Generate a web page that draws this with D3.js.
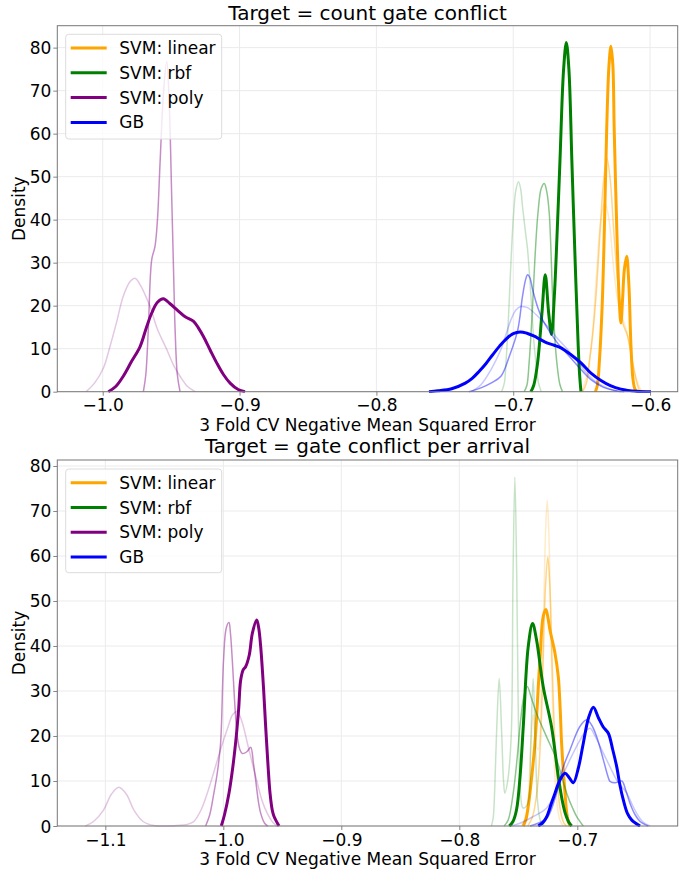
<!DOCTYPE html>
<html><head><meta charset="utf-8">
<script src="https://cdn.jsdelivr.net/npm/d3@7"></script>
<style>
html,body{margin:0;padding:0;background:#fff;}
svg text{font-family:"DejaVu Sans",sans-serif;fill:#000;}
</style></head>
<body><svg id="chart" width="694" height="873"></svg>
<script>
// ---------------- DATA ----------------
const modelNames = ["SVM: linear", "SVM: rbf", "SVM: poly", "GB"];
const titles = ["Target = count gate conflict", "Target = gate conflict per arrival"];
const xLabel = "3 Fold CV Negative Mean Squared Error";
const yLabel = "Density";
const xTicksTop = [-1.0, -0.9, -0.8, -0.7, -0.6];
const xTicksBottom = [-1.1, -1.0, -0.9, -0.8, -0.7];
const yTicks = [0, 10, 20, 30, 40, 50, 60, 70, 80];

// Top panel: density curves [x, density]; A = bold, B = medium, C = light
const topLinearA = [[-0.6400,0],[-0.6385,1.5],[-0.6371,6.7],[-0.6350,20],[-0.6334,37.7],[-0.6317,61],[-0.6300,76],[-0.6286,80.3],[-0.6272,76],[-0.6262,61],[-0.6243,37.7],[-0.6225,21],[-0.6213,16],[-0.6200,22],[-0.6188,28.4],[-0.6171,31.5],[-0.6155,25],[-0.6140,11],[-0.6125,3],[-0.6110,0.6],[-0.6091,0]];
const topLinearB = [[-0.6493,0],[-0.6465,2],[-0.6444,6.7],[-0.6420,13],[-0.6395,22.2],[-0.6364,37.7],[-0.6339,49.3],[-0.6315,54.3],[-0.6291,49.3],[-0.6266,37.7],[-0.6237,25.9],[-0.6200,16],[-0.6164,12.9],[-0.6127,6.7],[-0.6100,2.5],[-0.6079,0.5],[-0.6060,0]];
const topLinearC = [[-0.6500,0],[-0.6460,4],[-0.6420,14],[-0.6390,28],[-0.6360,40],[-0.6330,44],[-0.6300,40],[-0.6270,30],[-0.6240,22],[-0.6200,17],[-0.6170,14],[-0.6130,7],[-0.6090,2],[-0.6060,0]];
const topRbfA = [[-0.6871,0],[-0.6850,1.5],[-0.6822,6.7],[-0.6790,18.3],[-0.6766,27.2],[-0.6741,18.3],[-0.6720,13.3],[-0.6700,22],[-0.6688,29.9],[-0.6659,53.2],[-0.6632,74.9],[-0.6612,81.2],[-0.6593,74.9],[-0.6571,53.2],[-0.6547,29.9],[-0.6525,10.5],[-0.6515,4],[-0.6505,0]];
const topRbfB = [[-0.6920,0],[-0.6900,1.5],[-0.6884,6.7],[-0.6860,19],[-0.6843,30],[-0.6819,41.6],[-0.6795,47.3],[-0.6773,48.4],[-0.6755,46.5],[-0.6737,41.6],[-0.6712,22],[-0.6695,12],[-0.6681,6.7],[-0.6660,1.8],[-0.6640,0]];
const topRbfC = [[-0.7085,0],[-0.7065,2],[-0.7053,6.7],[-0.7035,17],[-0.7017,29.9],[-0.6998,41],[-0.6980,47],[-0.6961,48.8],[-0.6945,47],[-0.6932,43],[-0.6910,37],[-0.6895,33],[-0.6870,22],[-0.6850,12],[-0.6834,6.7],[-0.6815,2],[-0.6795,0]];
const topPolyA = [[-0.9959,0],[-0.9905,1.2],[-0.9850,3.6],[-0.9790,7],[-0.9727,10.5],[-0.9680,15],[-0.9642,18.3],[-0.9600,20.8],[-0.9557,21.6],[-0.9510,20.5],[-0.9459,19.1],[-0.9400,17.5],[-0.9338,16.4],[-0.9300,14.8],[-0.9265,12.9],[-0.9215,9.7],[-0.9167,6.7],[-0.9118,4],[-0.9069,2],[-0.9010,0.5],[-0.8960,0]];
const topPolyB = [[-0.9703,0],[-0.9685,4],[-0.9667,14.4],[-0.9642,30.7],[-0.9618,33.8],[-0.9600,40],[-0.9581,53.2],[-0.9555,70],[-0.9532,76.8],[-0.9515,68],[-0.9496,45.4],[-0.9480,25],[-0.9471,14.4],[-0.9455,4],[-0.9435,0]];
const topPolyC = [[-1.0122,0],[-1.0060,2],[-0.9995,5.5],[-0.9947,10.5],[-0.9900,16],[-0.9850,22.2],[-0.9800,25.6],[-0.9764,26.4],[-0.9720,24.5],[-0.9690,22.5],[-0.9654,19.8],[-0.9600,14.5],[-0.9532,9.8],[-0.9480,6],[-0.9435,3.6],[-0.9380,1.2],[-0.9325,0]];
const topGbA = [[-0.7616,0],[-0.7550,0.2],[-0.7450,0.7],[-0.7350,2.0],[-0.7300,3.1],[-0.7250,4.7],[-0.7200,6.5],[-0.7150,8.6],[-0.7100,10.6],[-0.7050,12.3],[-0.7000,13.5],[-0.6949,13.9],[-0.6900,13.6],[-0.6846,12.9],[-0.6800,12.1],[-0.6749,11.3],[-0.6700,10.8],[-0.6651,10.2],[-0.6578,8.6],[-0.6505,6.7],[-0.6432,4.3],[-0.6359,2.6],[-0.6290,1.4],[-0.6213,0.6],[-0.6100,0.1],[-0.5993,0]];
const topGbB = [[-0.7324,0],[-0.7236,0.9],[-0.7163,2],[-0.7090,3.6],[-0.7029,8.2],[-0.6968,14.2],[-0.6932,22.2],[-0.6910,26],[-0.6895,27.2],[-0.6878,26.5],[-0.6858,23.7],[-0.6820,19.5],[-0.6785,16.7],[-0.6730,13.8],[-0.6676,11.3],[-0.6620,9.3],[-0.6578,7.8],[-0.6500,5],[-0.6432,2.8],[-0.6340,1],[-0.6262,0.3],[-0.6189,0]];
const topGbC = [[-0.7308,0],[-0.7236,1.6],[-0.7163,5.1],[-0.7090,9.8],[-0.7017,16.7],[-0.6980,19],[-0.6944,19.8],[-0.6900,19.6],[-0.6871,19],[-0.6810,17.2],[-0.6749,15.2],[-0.6680,12.5],[-0.6603,9.8],[-0.6505,5.9],[-0.6440,3.5],[-0.6383,2],[-0.6300,0.7],[-0.6213,0]];

// Bottom panel
const botLinearA = [[-0.7458,0],[-0.7435,1.5],[-0.7416,4.3],[-0.7390,10],[-0.7359,18.4],[-0.7317,36.9],[-0.7288,46.7],[-0.7266,48.1],[-0.7250,46.5],[-0.7232,43.6],[-0.7189,38.4],[-0.7161,33.2],[-0.7145,26],[-0.7133,18.4],[-0.7115,11],[-0.7104,7.3],[-0.7090,3],[-0.7076,1],[-0.7060,0]];
const botLinearB = [[-0.7420,0],[-0.7380,2],[-0.7340,8],[-0.7310,20],[-0.7290,36],[-0.7270,53],[-0.7250,59.8],[-0.7232,53],[-0.7215,38],[-0.7195,22],[-0.7170,10],[-0.7140,3],[-0.7110,0.5],[-0.7090,0]];
const botLinearC = [[-0.7470,0],[-0.7430,3],[-0.7400,14],[-0.7374,24.7],[-0.7350,18],[-0.7330,17],[-0.7305,28],[-0.7285,48],[-0.7268,66],[-0.7255,72.4],[-0.7242,66],[-0.7225,45],[-0.7205,22],[-0.7180,7],[-0.7150,1.5],[-0.7120,0]];
const botRbfA = [[-0.7577,0],[-0.7545,1],[-0.7515,3.6],[-0.7485,11],[-0.7458,22],[-0.7416,39.8],[-0.7379,45],[-0.7345,41.3],[-0.7289,31],[-0.7218,22],[-0.7161,11],[-0.7130,6],[-0.7104,3],[-0.7075,1],[-0.7048,0]];
const botRbfB = [[-0.7620,0],[-0.7586,1.3],[-0.7543,7.3],[-0.7510,15],[-0.7486,22],[-0.7455,28.5],[-0.7424,31],[-0.7390,28.5],[-0.7345,25],[-0.7260,19.8],[-0.7175,14.7],[-0.7090,7.3],[-0.7040,4],[-0.7005,2.1],[-0.6949,0]];
const botRbfC = [[-0.7727,0],[-0.7712,2],[-0.7700,8],[-0.7685,20],[-0.7662,32.8],[-0.7640,20],[-0.7625,10],[-0.7614,7.3],[-0.7590,10],[-0.7560,20],[-0.7545,55],[-0.7529,77.5],[-0.7513,55],[-0.7500,25],[-0.7486,10],[-0.7460,4],[-0.7420,5],[-0.7395,18],[-0.7374,32.8],[-0.7355,18],[-0.7335,5],[-0.7310,1],[-0.7280,0]];
const botPolyA = [[-1.0017,0],[-0.9990,2.5],[-0.9952,7.3],[-0.9925,12],[-0.9896,18.4],[-0.9870,26],[-0.9853,32.4],[-0.9830,34.8],[-0.9811,35.4],[-0.9780,38],[-0.9754,42.8],[-0.9717,45.8],[-0.9700,44],[-0.9683,39.8],[-0.9660,31],[-0.9641,22.1],[-0.9620,13],[-0.9604,7.3],[-0.9585,3.5],[-0.9570,2.1],[-0.9528,0]];
const botPolyB = [[-1.0150,0],[-1.0115,2.5],[-1.0080,7.3],[-1.0050,12],[-1.0023,18.4],[-0.9998,36.9],[-0.9975,44],[-0.9952,45.2],[-0.9940,43],[-0.9924,36.9],[-0.9900,26],[-0.9881,19.8],[-0.9860,17],[-0.9839,16.1],[-0.9800,16.5],[-0.9768,17.5],[-0.9745,14],[-0.9726,10.2],[-0.9700,5],[-0.9683,2.8],[-0.9650,0.6],[-0.9624,0]];
const botPolyC = [[-1.1169,0],[-1.1100,1],[-1.1014,3.6],[-1.0950,7],[-1.0886,8.6],[-1.0820,7],[-1.0759,3.6],[-1.0680,1],[-1.0589,0.1],[-1.0400,0.1],[-1.0300,0.4],[-1.0250,1],[-1.0190,3.5],[-1.0136,7.3],[-1.0080,12],[-1.0023,17],[-0.9960,22],[-0.9920,24.8],[-0.9881,25.4],[-0.9840,23],[-0.9796,18.4],[-0.9750,13.5],[-0.9711,9.5],[-0.9670,5.5],[-0.9627,2.8],[-0.9580,0.8],[-0.9542,0]];
const botGbA = [[-0.7331,0],[-0.7290,0.8],[-0.7260,2],[-0.7220,5],[-0.7189,7.3],[-0.7147,10.2],[-0.7104,11.7],[-0.7070,10.8],[-0.7034,9.6],[-0.6990,13],[-0.6949,18.4],[-0.6905,24],[-0.6864,26.4],[-0.6820,24],[-0.6780,22],[-0.6737,20.6],[-0.6700,17],[-0.6666,13.2],[-0.6638,9],[-0.6610,5.8],[-0.6575,2.8],[-0.6538,1.3],[-0.6468,0]];
const botGbB = [[-0.7400,0],[-0.7300,1],[-0.7250,2],[-0.7175,7.3],[-0.7120,13],[-0.7062,16.9],[-0.6978,22.1],[-0.6920,23.6],[-0.6880,22.5],[-0.6835,19.8],[-0.6779,14.7],[-0.6740,11],[-0.6722,9.9],[-0.6680,9.6],[-0.6623,10],[-0.6590,8],[-0.6553,5],[-0.6510,2.5],[-0.6468,1],[-0.6400,0]];
const botGbC = [[-0.7560,0],[-0.7486,0.6],[-0.7380,2],[-0.7260,4],[-0.7175,8],[-0.7090,13.2],[-0.6977,19.1],[-0.6930,21],[-0.6892,21.7],[-0.6850,20],[-0.6779,16.2],[-0.6720,13],[-0.6666,10.2],[-0.6581,7.3],[-0.6530,4.5],[-0.6496,2.8],[-0.6440,0.8],[-0.6383,0]];

// ---------------- STYLE / LAYOUT ----------------
const colors = ["#ffa500", "#008000", "#800080", "#0000ff"];
const levels = [ {alpha:0.22, width:1.5}, {alpha:0.45, width:1.5}, {alpha:1, width:3} ];

const panels = [
  { title: titles[0], ticks: xTicksTop, xDom:[-1.0332,-0.5798], yDom:[0,85.1],
    box:{l:57.3, r:677.7, t:25.7, b:391.7},
    curves:[[topLinearC,topLinearB,topLinearA],[topRbfC,topRbfB,topRbfA],[topPolyC,topPolyB,topPolyA],[topGbC,topGbB,topGbA]],
    legend:{x:65.7, y:34.3, w:156, h:104.7}, titleY:20 },
  { title: titles[1], ticks: xTicksBottom, xDom:[-1.1407,-0.6149], yDom:[0,81.33],
    box:{l:57.3, r:677.7, t:460, b:826},
    curves:[[botLinearC,botLinearB,botLinearA],[botRbfC,botRbfB,botRbfA],[botPolyC,botPolyB,botPolyA],[botGbC,botGbB,botGbA]],
    legend:{x:65.7, y:469, w:156, h:103.7}, titleY:453 }
];

const svg = d3.select("#chart");
const fmt = d3.format(".1f");

panels.forEach((p, pi) => {
  const x = d3.scaleLinear().domain(p.xDom).range([p.box.l, p.box.r]);
  const y = d3.scaleLinear().domain(p.yDom).range([p.box.b, p.box.t]);
  const g = svg.append("g");
  const clipId = "clip" + pi;
  svg.append("clipPath").attr("id", clipId).append("rect")
    .attr("x", p.box.l).attr("y", p.box.t).attr("width", p.box.r - p.box.l).attr("height", p.box.b - p.box.t + 1);

  // grid
  g.append("g").selectAll("line").data(p.ticks).join("line")
    .attr("x1", d => x(d)).attr("x2", d => x(d)).attr("y1", p.box.t).attr("y2", p.box.b)
    .attr("stroke", "#ebebeb").attr("stroke-width", 1);
  g.append("g").selectAll("line").data(yTicks).join("line")
    .attr("x1", p.box.l).attr("x2", p.box.r).attr("y1", d => y(d)).attr("y2", d => y(d))
    .attr("stroke", "#ebebeb").attr("stroke-width", 1);

  // curves
  const line = d3.line().x(d => x(d[0])).y(d => Math.min(y(d[1]), p.box.b)).curve(d3.curveCatmullRom.alpha(0.5));
  const cg = g.append("g").attr("clip-path", `url(#${clipId})`);
  p.curves.forEach((set, mi) => {
    set.forEach((data, li) => {
      cg.append("path").datum(data).attr("d", line)
        .attr("fill", "none").attr("stroke", colors[mi])
        .attr("stroke-opacity", levels[li].alpha).attr("stroke-width", levels[li].width)
        .attr("stroke-linejoin", "round").attr("stroke-linecap", "butt");
    });
  });

  // axes
  const xAxis = d3.axisBottom(x).tickValues(p.ticks).tickFormat(fmt).tickSize(4).tickPadding(3);
  const yAxis = d3.axisLeft(y).tickValues(yTicks).tickSize(4).tickPadding(3);
  const xa = g.append("g").attr("transform", `translate(0,${p.box.b})`).call(xAxis);
  const ya = g.append("g").attr("transform", `translate(${p.box.l},0)`).call(yAxis);
  [xa, ya].forEach(a => {
    a.select(".domain").remove();
    a.selectAll(".tick line").attr("stroke", "#666").attr("stroke-width", 0.8);
    a.selectAll(".tick text").attr("font-size", 17).attr("fill", "#000")
      .attr("font-family", "DejaVu Sans");
  });
  xa.selectAll(".tick text").attr("dy", null).attr("y", 19.5).attr("dominant-baseline", "alphabetic");
  ya.selectAll(".tick text").attr("dy", null).attr("dominant-baseline", "central").attr("x", -6);

  // frame
  g.append("rect").attr("x", p.box.l).attr("y", p.box.t)
    .attr("width", p.box.r - p.box.l).attr("height", p.box.b - p.box.t)
    .attr("fill", "none").attr("stroke", "#777").attr("stroke-width", 1);

  // labels
  g.append("text").attr("x", (p.box.l + p.box.r) / 2).attr("y", p.titleY)
    .attr("text-anchor", "middle").attr("font-size", 20).text(p.title);
  g.append("text").attr("x", (p.box.l + p.box.r) / 2).attr("y", p.box.b + 39)
    .attr("text-anchor", "middle").attr("font-size", 17).text(xLabel);
  g.append("text").attr("transform", `translate(25,${(p.box.t + p.box.b) / 2}) rotate(-90)`)
    .attr("text-anchor", "middle").attr("font-size", 17).text(yLabel);

  // legend
  const L = p.legend;
  const lg = g.append("g");
  lg.append("rect").attr("x", L.x).attr("y", L.y).attr("width", L.w).attr("height", L.h)
    .attr("rx", 3).attr("fill", "#fff").attr("fill-opacity", 0.8)
    .attr("stroke", "#dcdcdc").attr("stroke-width", 1);
  modelNames.forEach((name, i) => {
    const ry = L.y + 13.7 + i * 24.8;
    lg.append("line").attr("x1", L.x + 5).attr("x2", L.x + 41).attr("y1", ry).attr("y2", ry)
      .attr("stroke", colors[i]).attr("stroke-width", 3);
    lg.append("text").attr("x", L.x + 53.6).attr("y", ry).attr("dominant-baseline", "central")
      .attr("font-size", 17).text(name);
  });
});
</script></body></html>
